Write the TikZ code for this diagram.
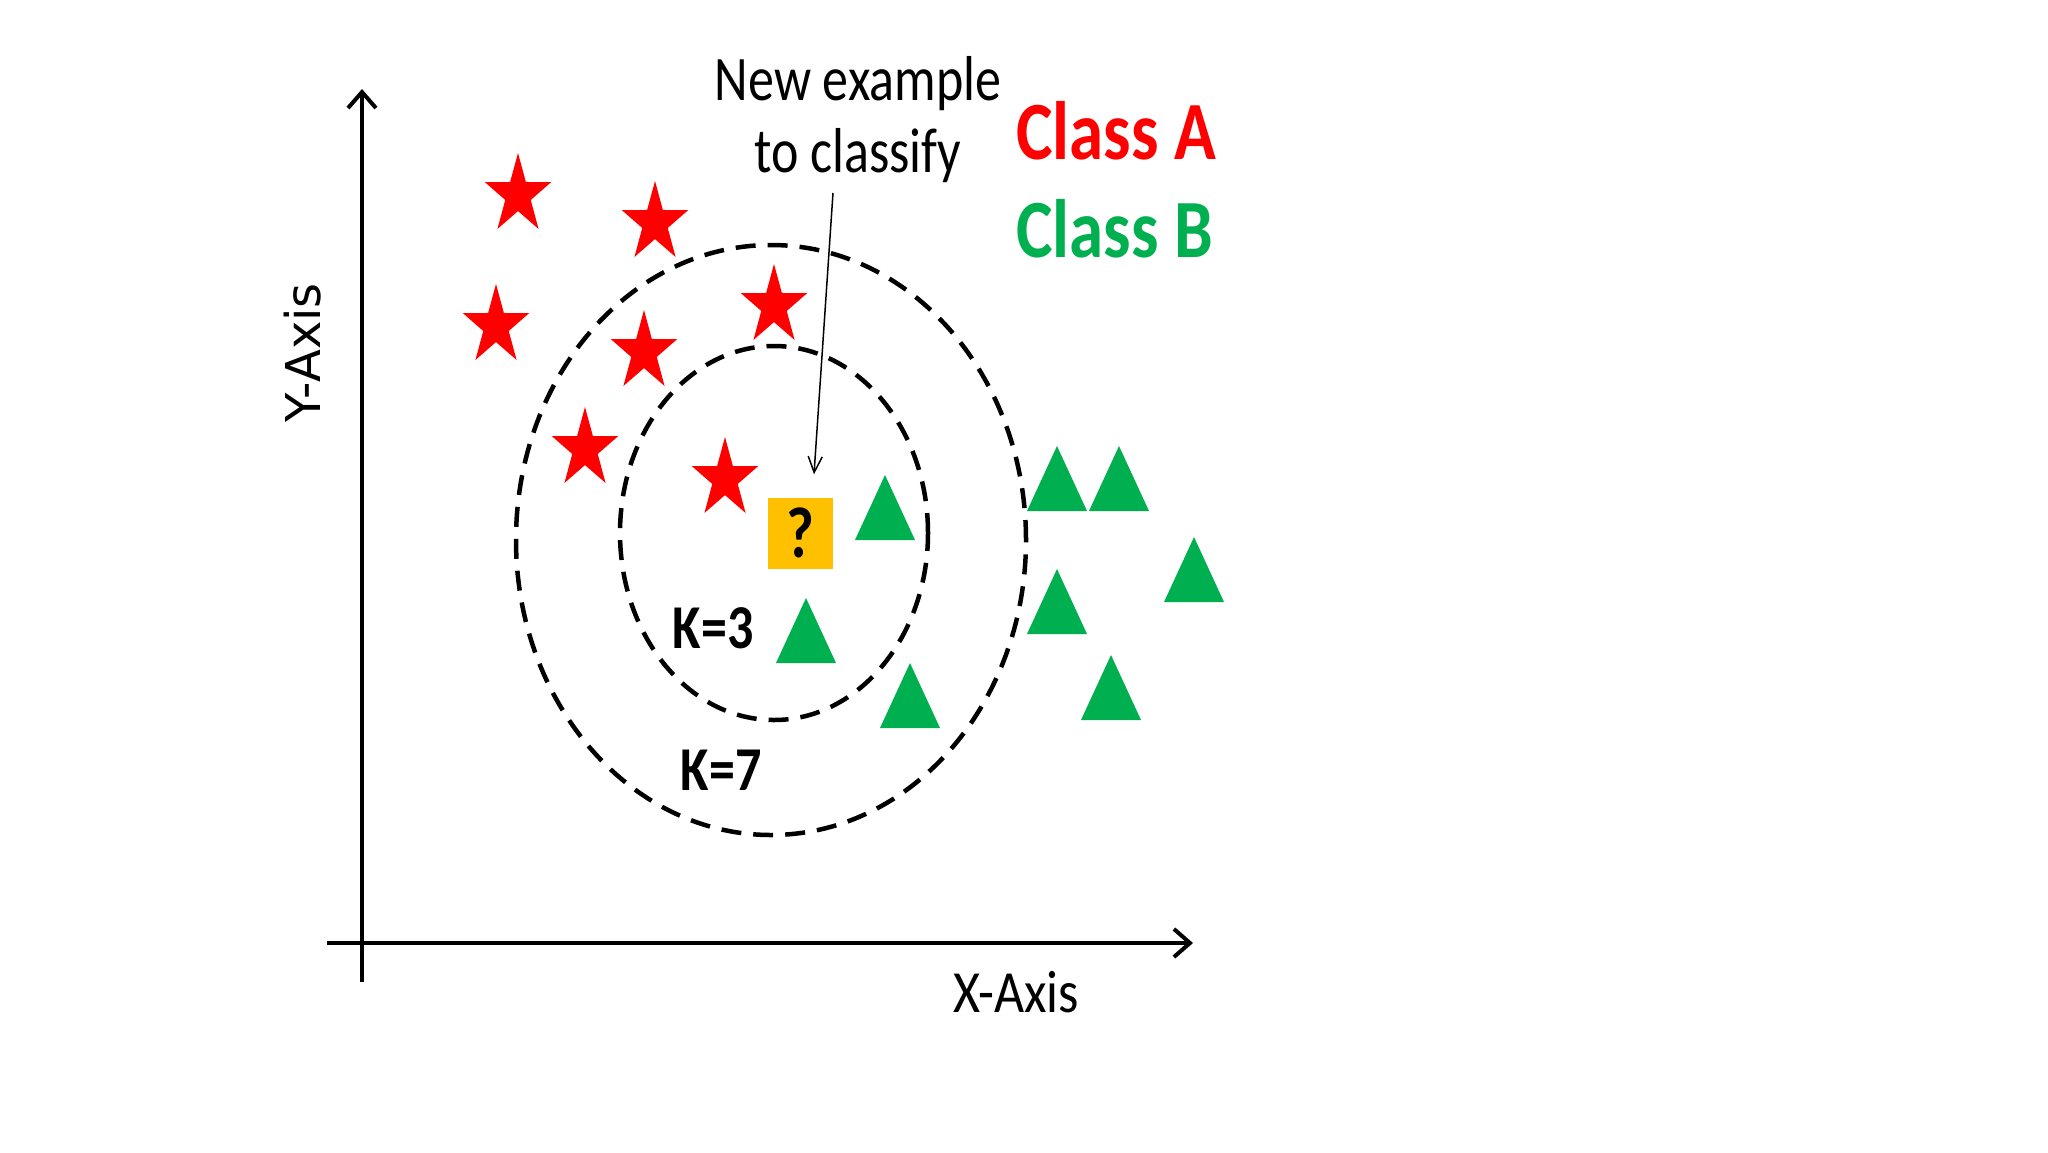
\documentclass[tikz,border=0pt]{standalone}
\usepackage{fontspec}
\setmainfont{Carlito}
\newfontfamily\yfont{DejaVu Sans}
\usepackage{graphicx}
\usetikzlibrary{shapes.geometric,arrows.meta}
\definecolor{clsA}{HTML}{FF0000}
\definecolor{clsB}{HTML}{00B050}
\definecolor{qbox}{HTML}{FFC000}
\newcommand{\tall}[2][1.22]{\scalebox{1}[#1]{#2}}
\begin{document}
\begin{tikzpicture}[x=1pt,y=-1pt,
  starpt/.pic={\fill[clsA, yscale=1.2]
      (270:35) -- (306:13.4) -- (342:35) -- (18:13.4) -- (54:35) -- (90:13.4)
      -- (126:35) -- (162:13.4) -- (198:35) -- (234:13.4) -- cycle;},
  tri/.pic={\fill[clsB] (-30,33) -- (0,-32) -- (30,33) -- cycle;},
  ring/.style={ellipse, draw=black, line width=4.5pt, dash pattern=on 20pt off 12pt, inner sep=0pt},
  axisline/.style={line width=4pt, -{Straight Barb[length=16pt,width=28pt]}},
  ptr/.style={line width=1.5pt, -{Straight Barb[length=16pt,width=14pt]}},
  lbl/.style={inner sep=0pt, anchor=base, font=\fontsize{52}{60}\selectfont},
  klbl/.style={inner sep=0pt, anchor=base, font=\fontsize{52}{60}\selectfont\bfseries},
  cls/.style={inner sep=0pt, anchor=base west, font=\fontsize{69}{80}\selectfont\bfseries}
]
\fill[white] (0,0) rectangle (2048,1152);
\useasboundingbox (0,0) rectangle (2048,1152);

% axes
\coordinate (yb) at (362,982);
\coordinate (yt) at (362,89);
\coordinate (xl) at (327,943);
\coordinate (xr) at (1193,943);
\draw[axisline] (yb) -- (yt);
\draw[axisline] (xl) -- (xr);
\node[inner sep=0pt, rotate=90, font=\yfont\fontsize{48}{56}\selectfont] (ylab) at (303,353) {Y-Axis};
\node[lbl] (xlab) at (1016,1012) {\tall[1.15]{X-Axis}};

% neighbourhood rings
\node[ring, minimum width=308pt, minimum height=374pt] (k3ring) at (774,533) {};
\node[ring, minimum width=510pt, minimum height=590pt] (k7ring) at (771,540) {};
\node[klbl] (k3) at (713,648) {\tall[1.2]{K=3}};
\node[klbl] (k7) at (721,790) {\tall[1.2]{K=7}};

% class A stars
\pic (s1) at (518,195) {starpt};
\pic (s2) at (655,223) {starpt};
\pic (s3) at (496,326) {starpt};
\pic (s4) at (644,352) {starpt};
\pic (s5) at (774,306) {starpt};
\pic (s6) at (585,449) {starpt};
\pic (s7) at (725,479) {starpt};

% class B triangles
\pic (t1) at (885,507) {tri};
\pic (t2) at (1057,478) {tri};
\pic (t3) at (1119,478) {tri};
\pic (t4) at (1194,569) {tri};
\pic (t5) at (1057,601) {tri};
\pic (t6) at (806,630) {tri};
\pic (t7) at (910,695) {tri};
\pic (t8) at (1111,687) {tri};

% new example
\node[fill=qbox, minimum width=65pt, minimum height=71pt, inner sep=0pt,
      font=\fontsize{60}{60}\selectfont\bfseries] (q) at (800,533) {\tall[1.2]{?}};

% label + pointer
\node[lbl] (newl1) at (858,100) {\tall{New example}};
\node[lbl] (newl2) at (858,172) {\tall{to classify}};
\coordinate (pstart) at (833,193);
\draw[ptr] (pstart) -- ([xshift=14pt,yshift=23pt]q.north);

% legend
\node[cls, text=clsA] (ca) at (1016,159) {\tall[1.2]{Class A}};
\node[cls, text=clsB] (cb) at (1016,257) {\tall[1.2]{Class B}};
\end{tikzpicture}
\end{document}
